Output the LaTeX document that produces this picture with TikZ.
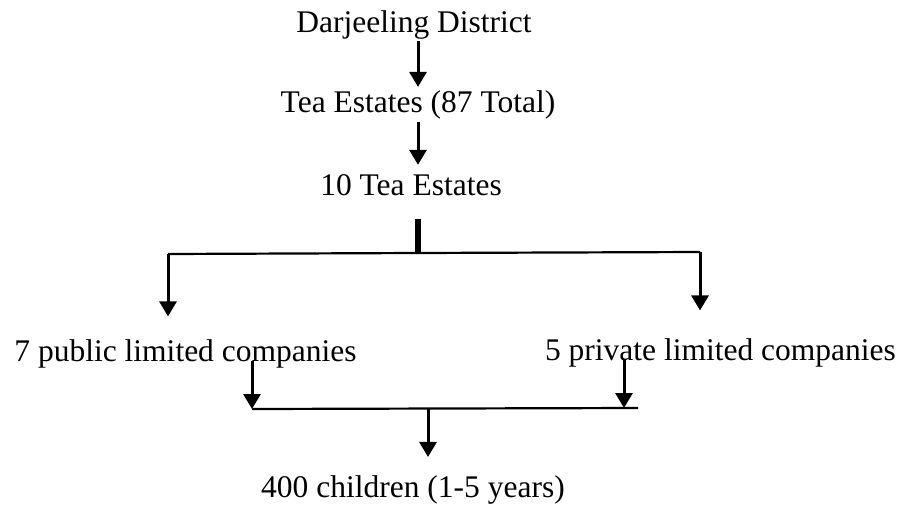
\documentclass[tikz,border=0pt]{standalone}
\usepackage{fontspec}
\setmainfont{Liberation Serif}
\usepackage{tikz}
\usetikzlibrary{arrows.meta,calc}

\begin{document}
\begin{tikzpicture}[
    x=1pt, y=1pt,
    txt/.style={inner sep=0pt, anchor=base, font=\fontsize{31.5}{38}\selectfont},
    arrow/.style={-{Triangle[width=17pt,length=15pt]}, line width=3pt},
    link/.style={line width=2.2pt},
    trunk/.style={line width=6pt}
]
    \useasboundingbox (0,0) rectangle (907,-506);

    \node[txt] (district) at (414,-32) {Darjeeling District};
    \node[txt] (estates) at (418,-112) {Tea Estates (87 Total)};
    \node[txt] (tea10) at (411,-195) {10 Tea Estates};
    \node[txt] (public) at (185.5,-361) {7 public limited companies};
    \node[txt] (private) at (720.5,-360) {5 private limited companies};
    \node[txt] (children) at (413,-497) {400 children (1-5 years)};

    \coordinate (split) at (418,-253);
    \coordinate (leftend) at (168,-254);
    \coordinate (rightend) at (700,-252);
    \coordinate (mleft) at (252,-409);
    \coordinate (rdrop) at (624,-408);
    \coordinate (mright) at (638,-408);
    \coordinate (merge) at (428,-408);

    \draw[arrow, shorten <=2.5pt, shorten >=3pt] (district.south -| estates.north) -- (estates.north);
    \draw[arrow, shorten <=3pt, shorten >=9pt] (estates.south) -- (estates.south |- tea10.north);

    \draw[trunk] (split) -- ++(0,34);
    \draw[link] (leftend) -- (split) -- (rightend);
    \draw[arrow, shorten >=22.5pt] (leftend) -- (leftend |- public.north);
    \draw[arrow, shorten >=27.5pt] (rightend) -- (rightend |- private.north);

    \draw[arrow] (public.base -| mleft) -- (mleft);
    \draw[arrow] (private.base -| rdrop) -- (rdrop);
    \draw[link] (mleft) -- (mright);
    \draw[arrow, shorten >=18pt] (merge) -- (merge |- children.north);
\end{tikzpicture}
\end{document}
